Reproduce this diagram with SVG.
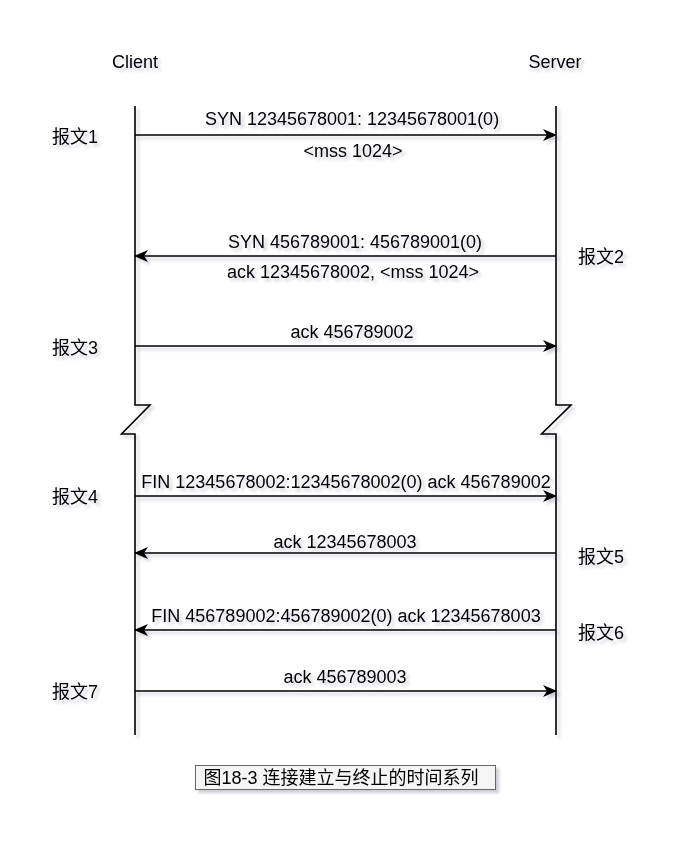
<svg xmlns="http://www.w3.org/2000/svg" width="693" height="858" viewBox="0 0 693 858">
<defs>
<filter id="sh" x="-20%" y="-20%" width="140%" height="140%">
<feGaussianBlur in="SourceAlpha" stdDeviation="1.5"/>
<feOffset dx="3" dy="3" result="b"/>
<feFlood flood-color="#3a3a6a" flood-opacity="0.25"/>
<feComposite in2="b" operator="in"/>
<feMerge><feMergeNode/><feMergeNode in="SourceGraphic"/></feMerge>
</filter>
<marker id="ah" viewBox="0 0 14 12" refX="13" refY="6" markerWidth="14" markerHeight="12" markerUnits="userSpaceOnUse" orient="auto">
<path d="M0,0 L14,6 L0,12 L4,6 Z" fill="#000"/>
</marker>
</defs>
<style>
text{font-family:"Liberation Sans",Arial,"Noto Sans CJK SC",sans-serif;font-size:18px;fill:#000}
.m{text-anchor:middle}
.ln{fill:none;stroke:#000;stroke-width:1.6}
.ar{fill:none;stroke:#000;stroke-width:1.6;marker-end:url(#ah)}
</style>
<rect width="693" height="858" fill="#fff"/>
<g id="client" filter="url(#sh)">
<text class="m" x="135" y="68">Client</text>
<path class="ln" d="M135,106 V405 H150 L121.5,434 H135 V735"/>
</g>
<g id="server" filter="url(#sh)">
<text class="m" x="555" y="68">Server</text>
<path class="ln" d="M556,106 V405 H571 L541.5,434 H556 V735"/>
</g>
<g id="labels" filter="url(#sh)">
<text x="52" y="143">报文1</text>
<text x="578" y="263">报文2</text>
<text x="52" y="354">报文3</text>
<text x="52" y="503">报文4</text>
<text x="578" y="563">报文5</text>
<text x="578" y="639">报文6</text>
<text x="52" y="698">报文7</text>
</g>
<g id="connectors" filter="url(#sh)">
<line class="ar" x1="135" y1="135" x2="556" y2="135"/>
<line class="ar" x1="556" y1="256" x2="135" y2="256"/>
<line class="ar" x1="135" y1="346" x2="556" y2="346"/>
<line class="ar" x1="135" y1="496" x2="556" y2="496"/>
<line class="ar" x1="556" y1="553" x2="135" y2="553"/>
<line class="ar" x1="556" y1="630" x2="135" y2="630"/>
<line class="ar" x1="135" y1="691" x2="556" y2="691"/>
<text class="m" x="352" y="125">SYN 12345678001: 12345678001(0)</text>
<text class="m" x="353" y="157">&lt;mss 1024&gt;</text>
<text class="m" x="355" y="248">SYN 456789001: 456789001(0)</text>
<text class="m" x="353" y="278">ack 12345678002, &lt;mss 1024&gt;</text>
<text class="m" x="352" y="338">ack 456789002</text>
<text class="m" x="346" y="488">FIN 12345678002:12345678002(0) ack 456789002</text>
<text class="m" x="345" y="548">ack 12345678003</text>
<text class="m" x="346" y="622">FIN 456789002:456789002(0) ack 12345678003</text>
<text class="m" x="345" y="683">ack 456789003</text>
</g>
<g id="caption" filter="url(#sh)">
<rect x="195.5" y="765.5" width="300" height="24" fill="#f5f5f5" stroke="#666"/>
<text class="m" x="341" y="784">图18-3 连接建立与终止的时间系列</text>
</g>
</svg>
